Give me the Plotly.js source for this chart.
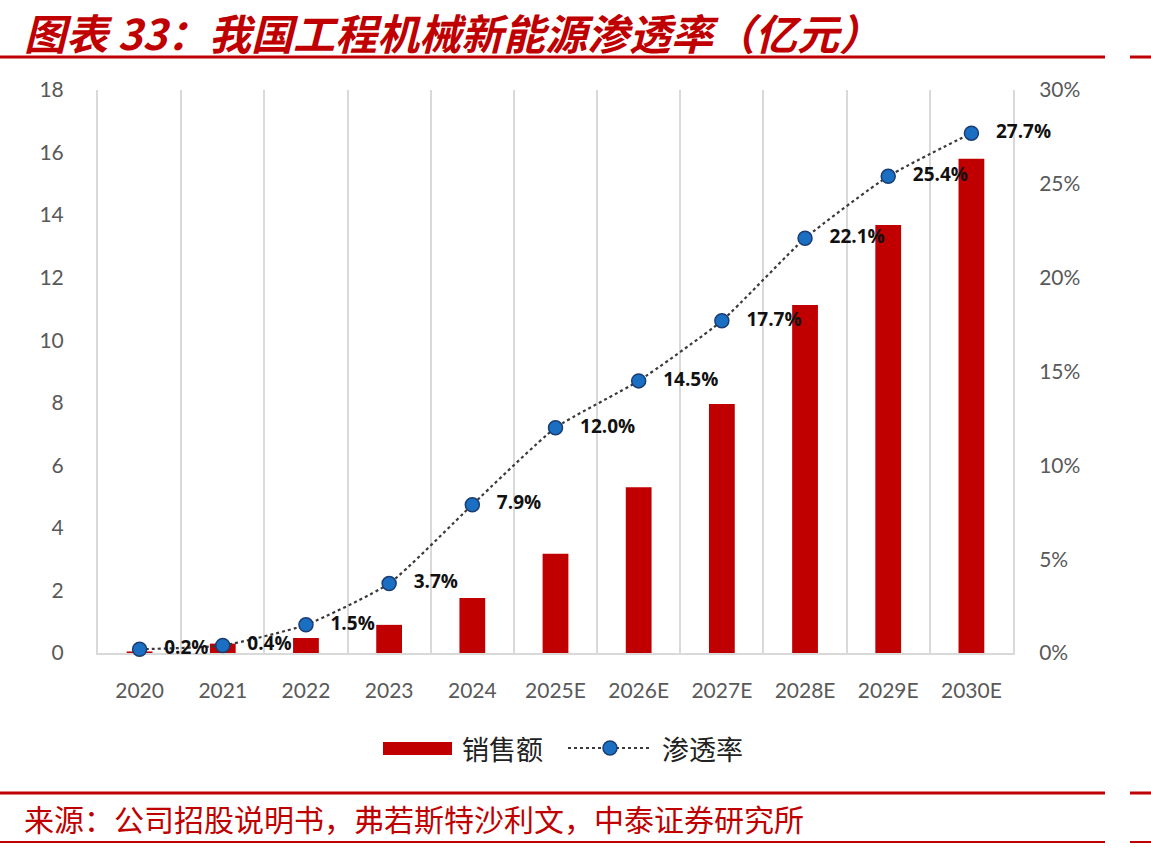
<!DOCTYPE html>
<html><head><meta charset="utf-8">
<script src="https://cdn.plot.ly/plotly-3.0.1.min.js"></script>
<style>html,body{margin:0;padding:0;background:#fff;}#chart{width:1151px;height:848px;}</style>
</head><body><div id="chart"></div>
<script>
const categories = ['2020','2021','2022','2023','2024','2025E','2026E','2027E','2028E','2029E','2030E'];
const sales = [0.05, 0.3, 0.48, 0.9, 1.76, 3.17, 5.3, 7.96, 11.13, 13.68, 15.8];
const penetration = [0.002, 0.004, 0.015, 0.037, 0.079, 0.120, 0.145, 0.177, 0.221, 0.254, 0.277];
const penetrationLabels = ['0.2%','0.4%','1.5%','3.7%','7.9%','12.0%','14.5%','17.7%','22.1%','25.4%','27.7%'];
const leftTicks = [0,2,4,6,8,10,12,14,16,18];
const rightTicks = [0,0.05,0.10,0.15,0.20,0.25,0.30];
const rightTickLabels = ['0%','5%','10%','15%','20%','25%','30%'];
const titleText = '图表 33：我国工程机械新能源渗透率（亿元）';
const sourceText = '来源：公司招股说明书，弗若斯特沙利文，中泰证券研究所';
const legendNames = ['销售额','渗透率'];

const red = '#c00000';
const grid = '#d9d9d9';
const tickFont = {family:'Lato, "Open Sans", sans-serif', size:21, color:'#595959'};
const cjk = '"Noto Sans CJK SC", sans-serif';
const W = 915, H = 563, L = 98, B = 653;
const px = v => (v - L) / W;
const py = v => (B - v) / H;

const traces = [
  {type:'bar', x:categories, y:sales, name:legendNames[0], marker:{color:red}, width:0.31, yaxis:'y', showlegend:false, hoverinfo:'skip'},
  {type:'scatter', mode:'lines+markers+text', x:categories, y:penetration, yaxis:'y2', name:legendNames[1],
   line:{color:'#3a3a3a', width:2.2, dash:'dot', shape:'spline', smoothing:0.5},
   marker:{symbol:'circle', size:14, color:'#1b6fc2', line:{color:'#1a3d73', width:1.5}},
   text:penetrationLabels.map(t=>'   '+t), textposition:'middle right',
   textfont:{family:'"Open Sans", Lato, sans-serif', size:19, color:'#111', weight:'bold'},
   cliponaxis:false, showlegend:false, hoverinfo:'skip'}
];

const layout = {
  width:1151, height:848,
  margin:{l:98, r:138, t:90, b:195},
  paper_bgcolor:'#fff', plot_bgcolor:'#fff',
  showlegend:false,
  xaxis:{type:'category', range:[-0.5, categories.length-0.5], tickson:'boundaries', showgrid:true, gridcolor:grid, gridwidth:2,
    showline:true, linecolor:grid, linewidth:2, ticks:'', ticklabelstandoff:18, layer:'below traces',
    tickfont:tickFont, zeroline:false},
  yaxis:{range:[0,18], tickvals:leftTicks, showgrid:false, zeroline:false, showline:true, linecolor:grid, linewidth:2,
    tickfont:tickFont, ticks:'', ticklabelstandoff:28, layer:'below traces'},
  yaxis2:{range:[0,0.30], overlaying:'y', side:'right', tickvals:rightTicks, ticktext:rightTickLabels, layer:'below traces',
    showgrid:false, zeroline:false, showline:true, linecolor:grid, linewidth:2, tickfont:tickFont, ticks:'', ticklabelstandoff:20},
  shapes:[
    {type:'line', xref:'paper', yref:'paper', x0:px(0), x1:px(1105), y0:py(57), y1:py(57), line:{color:red, width:3}},
    {type:'line', xref:'paper', yref:'paper', x0:px(1130), x1:px(1151), y0:py(57), y1:py(57), line:{color:red, width:3}},
    {type:'line', xref:'paper', yref:'paper', x0:px(0), x1:px(1105), y0:py(793), y1:py(793), line:{color:red, width:3}},
    {type:'line', xref:'paper', yref:'paper', x0:px(1130), x1:px(1151), y0:py(793), y1:py(793), line:{color:red, width:3}},
    {type:'line', xref:'paper', yref:'paper', x0:px(0), x1:px(1105), y0:py(842), y1:py(842), line:{color:red, width:2}},
    {type:'line', xref:'paper', yref:'paper', x0:px(1130), x1:px(1151), y0:py(842), y1:py(842), line:{color:red, width:2}},
    {type:'rect', xref:'paper', yref:'paper', x0:px(383), x1:px(452), y0:py(755), y1:py(742), fillcolor:red, line:{width:0}},
    {type:'line', xref:'paper', yref:'paper', x0:px(568), x1:px(652), y0:py(748), y1:py(748), line:{color:'#3a3a3a', width:2, dash:'dot'}},
    {type:'circle', xref:'paper', yref:'paper', xsizemode:'pixel', ysizemode:'pixel', xanchor:px(610), yanchor:py(748),
     x0:-7, x1:7, y0:-7, y1:7, fillcolor:'#1b6fc2', line:{color:'#1a3d73', width:1.5}}
  ],
  annotations:[
    {xref:'paper', yref:'paper', x:px(22), y:py(31), xanchor:'left', yanchor:'middle', showarrow:false,
     text:'<b><i>'+titleText+'</i></b>', font:{family:cjk, size:42, color:red}},
    {xref:'paper', yref:'paper', x:px(22), y:py(818), xanchor:'left', yanchor:'middle', showarrow:false,
     text:sourceText, font:{family:cjk, size:30, color:red}},
    {xref:'paper', yref:'paper', x:px(460), y:py(748), xanchor:'left', yanchor:'middle', showarrow:false,
     text:legendNames[0], font:{family:cjk, size:27, color:'#222'}},
    {xref:'paper', yref:'paper', x:px(660), y:py(748), xanchor:'left', yanchor:'middle', showarrow:false,
     text:legendNames[1], font:{family:cjk, size:27, color:'#222'}}
  ]
};

Plotly.newPlot('chart', traces, layout, {displayModeBar:false, staticPlot:true});
</script></body></html>
